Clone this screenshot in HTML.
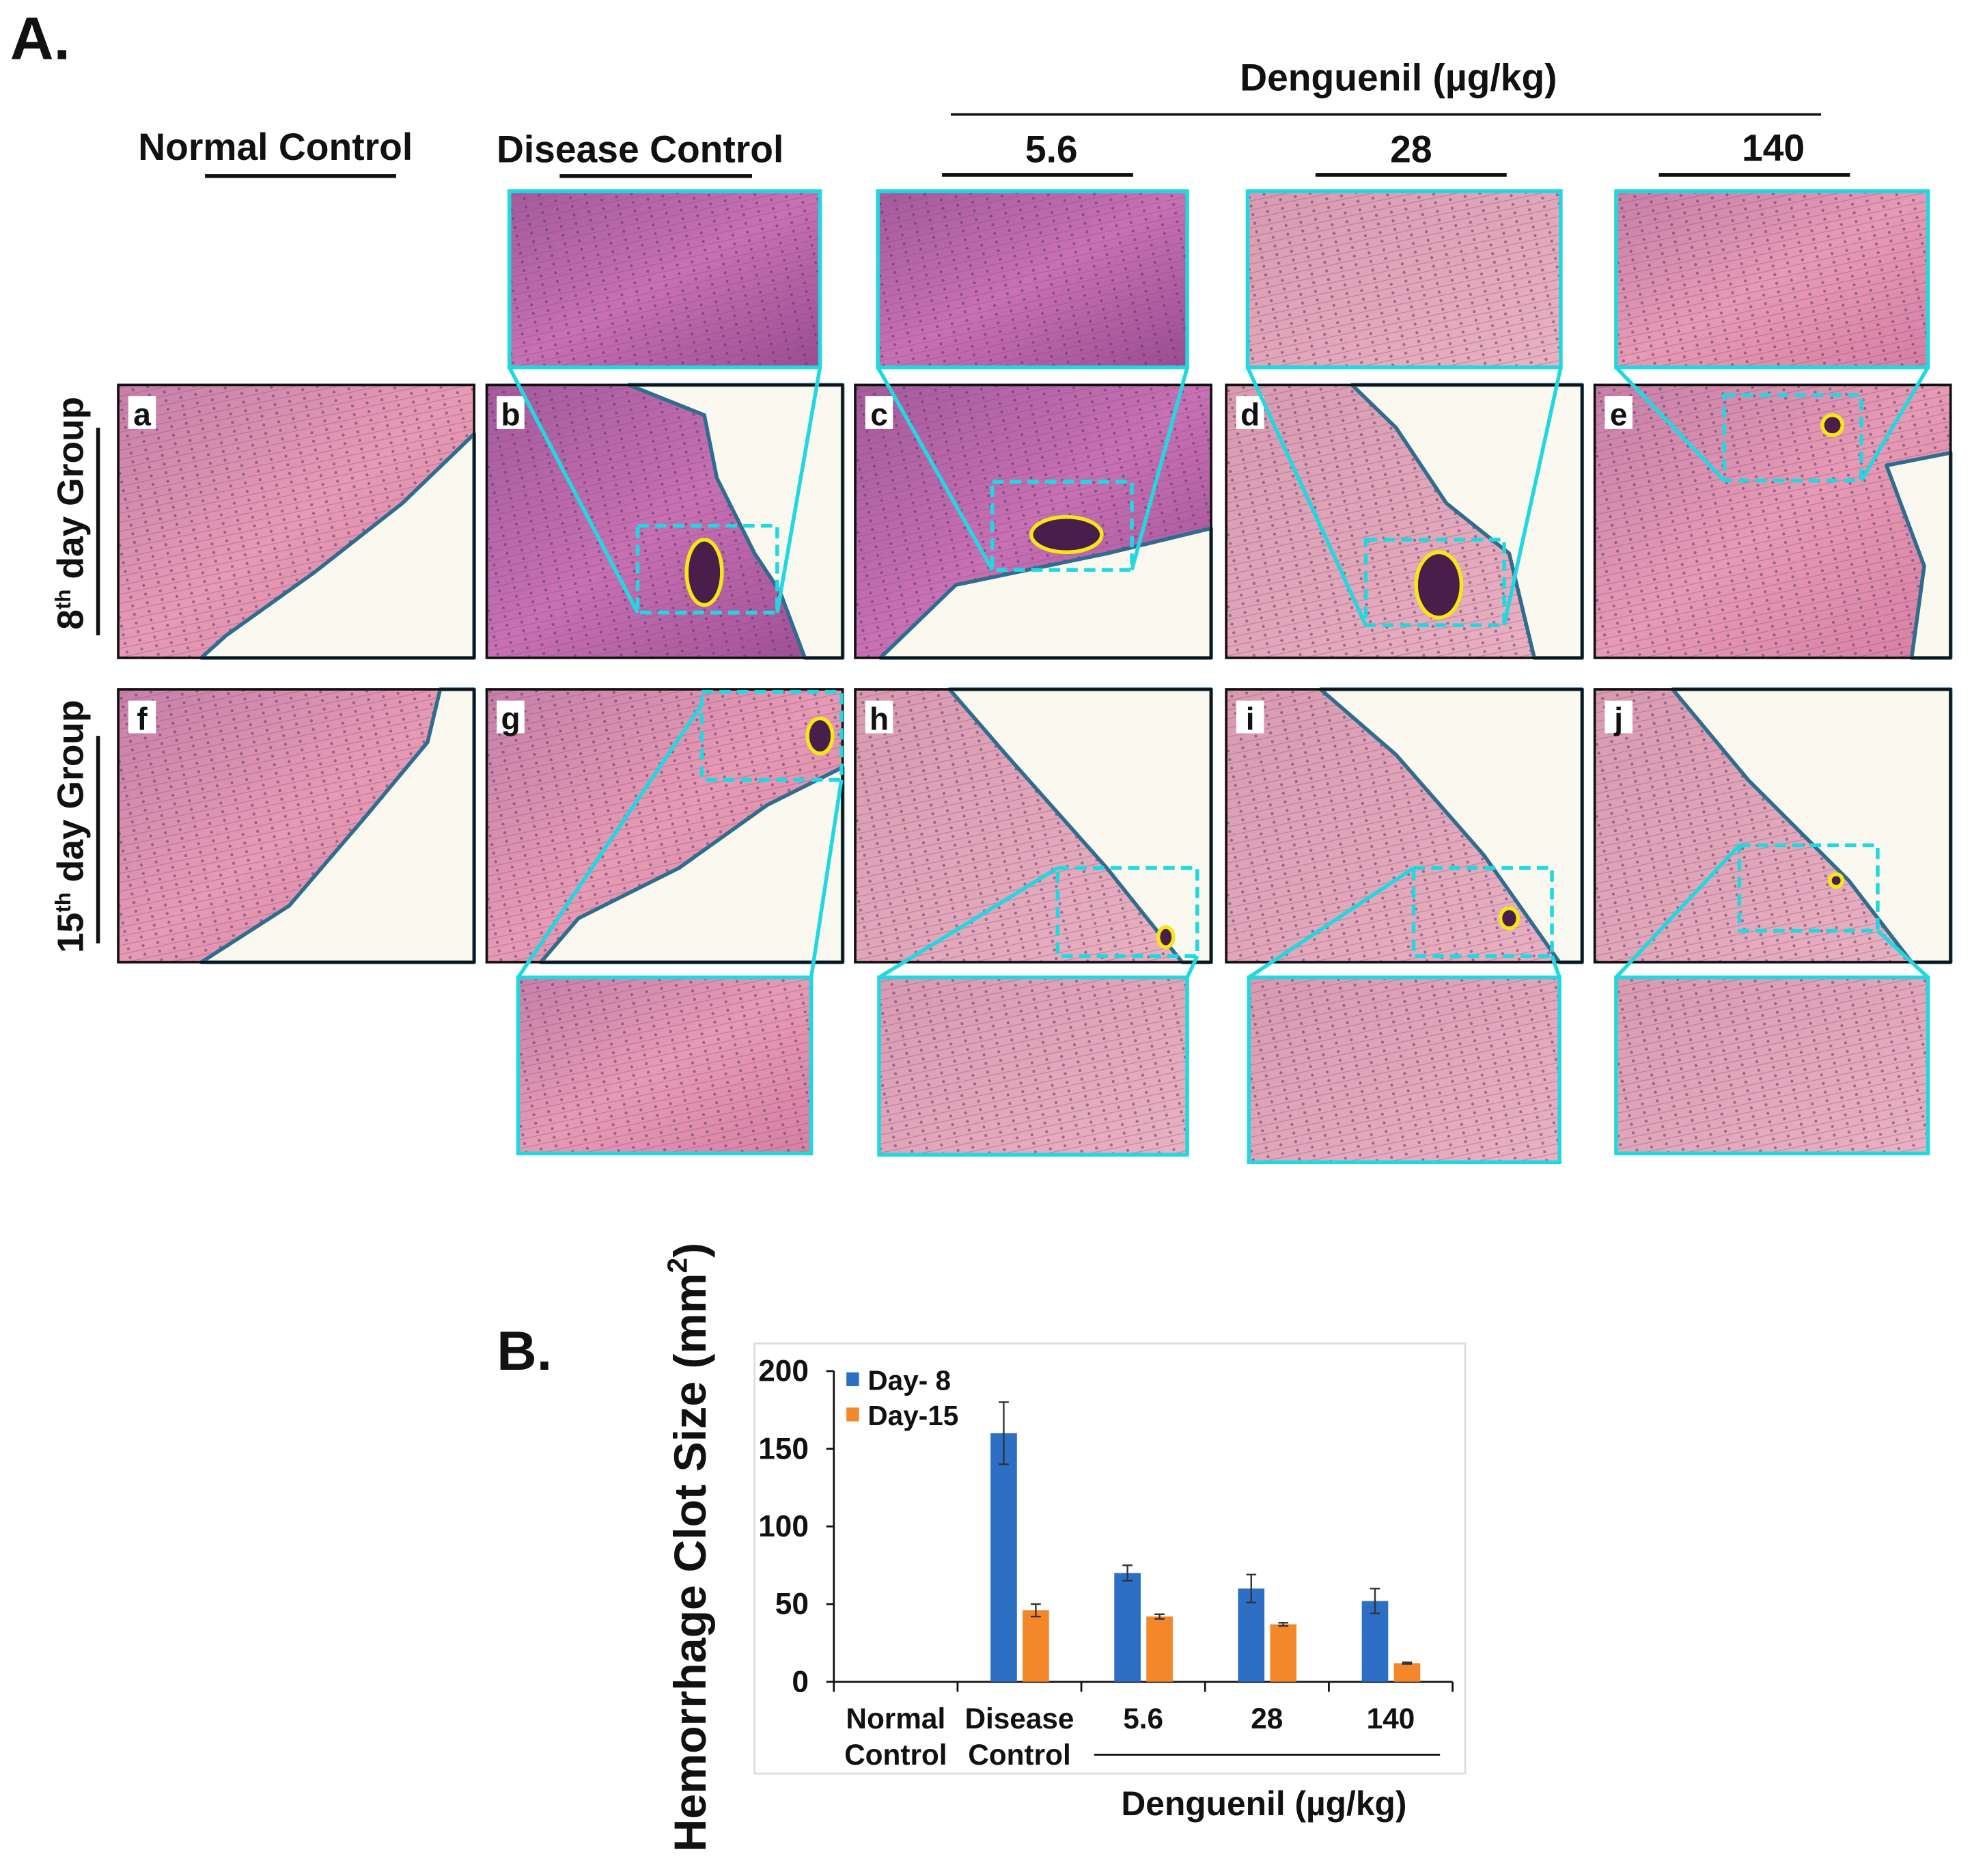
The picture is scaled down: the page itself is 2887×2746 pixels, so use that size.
<!DOCTYPE html>
<html><head><meta charset="utf-8"><style>
html,body{margin:0;padding:0;background:#fff}
svg{display:block}
text{font-family:"Liberation Sans",sans-serif;font-weight:bold;fill:#111}
</style></head><body>
<svg id="fig" width="2887" height="2746" viewBox="0 0 1568 1491.4" xmlns="http://www.w3.org/2000/svg">
<defs>
<linearGradient id="pk" x1="0" y1="0" x2="1" y2="1"><stop offset="0" stop-color="#c77fa8"/><stop offset="0.5" stop-color="#e79ab4"/><stop offset="1" stop-color="#d67fa2"/></linearGradient>
<linearGradient id="pu" x1="0" y1="0" x2="1" y2="1"><stop offset="0" stop-color="#a45a9c"/><stop offset="0.5" stop-color="#c870b4"/><stop offset="1" stop-color="#9c4c92"/></linearGradient>
<linearGradient id="lp" x1="0" y1="0" x2="1" y2="1"><stop offset="0" stop-color="#d99ab0"/><stop offset="1" stop-color="#eab1c2"/></linearGradient>
<pattern id="st" width="12" height="7" patternUnits="userSpaceOnUse" patternTransform="rotate(-12)"><rect width="12" height="7" fill="none"/><circle cx="3" cy="3" r="1.2" fill="#5a3a6a" opacity="0.55"/><line x1="0" y1="6" x2="12" y2="6" stroke="#7a4a7a" stroke-width="0.6" opacity="0.4"/></pattern>
</defs>

<text x="8" y="47" font-size="48">A.</text>

<g>
<text x="219" y="127" font-size="30" text-anchor="middle">Normal Control</text>
<line x1="163" y1="140" x2="315" y2="140" stroke="#111" stroke-width="3"/>
<text x="509" y="129" font-size="30" text-anchor="middle">Disease Control</text>
<line x1="445" y1="140" x2="598" y2="140" stroke="#111" stroke-width="3"/>
<text x="1112" y="72" font-size="30" text-anchor="middle">Denguenil (µg/kg)</text>
<line x1="756" y1="91" x2="1448" y2="91" stroke="#111" stroke-width="2"/>
<text x="836" y="129" font-size="30" text-anchor="middle">5.6</text>
<line x1="749" y1="139" x2="901" y2="139" stroke="#111" stroke-width="3"/>
<text x="1122" y="129" font-size="30" text-anchor="middle">28</text>
<line x1="1046" y1="139" x2="1198" y2="139" stroke="#111" stroke-width="3"/>
<text x="1410" y="128" font-size="30" text-anchor="middle">140</text>
<line x1="1319" y1="139" x2="1471" y2="139" stroke="#111" stroke-width="3"/>
</g>

<g>
<text transform="translate(66,408) rotate(-90)" font-size="29" text-anchor="middle">8<tspan font-size="17" dy="-10">th</tspan><tspan dy="10"> day Group</tspan></text>
<line x1="78" y1="340" x2="78" y2="505" stroke="#111" stroke-width="3"/>
<text transform="translate(66,657) rotate(-90)" font-size="29" text-anchor="middle">15<tspan font-size="17" dy="-10">th</tspan><tspan dy="10"> day Group</tspan></text>
<line x1="78" y1="585" x2="78" y2="750" stroke="#111" stroke-width="3"/>
</g>

<g id="panels"></g>

<text x="395" y="1089" font-size="44">B.</text>

<g id="chart">
<rect x="600" y="1068" width="565" height="342" fill="#fff" stroke="#ddd" stroke-width="1.5"/>
</g>
</svg>
<script>
// ---- chart data ----
const categories = ["Normal Control","Disease Control","5.6","28","140"];
const day8Values = [0,160,70,60,52];
const day8Errors = [0,20,5,9,8];
const day15Values = [0,46,42,37,12];
const day15Errors = [0,4,1.5,1,0.5];
const yTicks = [0,50,100,150,200];
const seriesNames = ["Day- 8","Day-15"];

const NS="http://www.w3.org/2000/svg";
function mk(tag,attrs,parent){const e=document.createElementNS(NS,tag);for(const k in attrs)e.setAttribute(k,attrs[k]);parent.appendChild(e);return e;}

// ---- panels (micrographs approximated) ----
const P=document.getElementById('panels');
const panels=[
 {id:'a',x:94,y:306,f:'url(#pk)',w:[[377,345],[320,400],[250,455],[180,505],[160,523],[377,523]]},
 {id:'b',x:387,y:306,f:'url(#pu)',w:[[500,306],[670,306],[670,523],[640,523],[620,470],[600,440],[570,380],[560,330]]},
 {id:'c',x:680,y:306,f:'url(#pu)',w:[[700,523],[760,465],[880,440],[963,420],[963,523]]},
 {id:'d',x:975,y:306,f:'url(#lp)',w:[[1075,306],[1258,306],[1258,523],[1220,523],[1200,440],[1150,400],[1110,340]]},
 {id:'e',x:1268,y:306,f:'url(#pk)',w:[[1500,370],[1551,360],[1551,523],[1520,523],[1530,450]]},
 {id:'f',x:94,y:548,f:'url(#pk)',w:[[350,548],[377,548],[377,765],[160,765],[230,720],[290,650],[340,590]]},
 {id:'g',x:387,y:548,f:'url(#pk)',w:[[670,610],[610,640],[540,690],[460,730],[430,765],[670,765]]},
 {id:'h',x:680,y:548,f:'url(#lp)',w:[[755,548],[963,548],[963,765],[940,765],[880,690],[800,600]]},
 {id:'i',x:975,y:548,f:'url(#lp)',w:[[1050,548],[1258,548],[1258,765],[1240,765],[1180,680],[1110,600]]},
 {id:'j',x:1268,y:548,f:'url(#lp)',w:[[1330,548],[1551,548],[1551,765],[1520,765],[1470,700],[1390,620]]}
];
panels.forEach(p=>{
 const g=mk('g',{},P);
 
 
 mk('rect',{x:p.x,y:p.y,width:283,height:217,fill:p.f},g);
 mk('rect',{x:p.x,y:p.y,width:283,height:217,fill:'url(#st)'},g);
 mk('polygon',{points:p.w.map(q=>q.join(',')).join(' '),fill:'#fbf8ef',stroke:'#2f6d8e','stroke-width':3,'stroke-linejoin':'round'},g);
 mk('rect',{x:p.x,y:p.y,width:283,height:217,fill:'none',stroke:'#111','stroke-width':2},g);
 mk('rect',{x:p.x+8,y:p.y+9,width:22,height:26,fill:'#fff'},g);
 const t=mk('text',{x:p.x+19,y:p.y+32,'font-size':25,'text-anchor':'middle'},g);t.textContent=p.id;
});
// insets and zoom boxes
const insets=[
 {x:405,y:152,w:247,h:140,f:'url(#pu)',b:[507,418,111,69],l:[[405,292,507,487],[652,292,618,487]]},
 {x:698,y:152,w:246,h:140,f:'url(#pu)',b:[789,383,111,70],l:[[698,292,789,453],[944,292,900,453]]},
 {x:992,y:152,w:249,h:140,f:'url(#lp)',b:[1086,429,110,68],l:[[992,292,1086,497],[1241,292,1196,497]]},
 {x:1285,y:152,w:248,h:140,f:'url(#pk)',b:[1371,314,109,68],l:[[1285,292,1371,382],[1533,292,1480,382]]},
 {x:412,y:777,w:233,h:140,f:'url(#pk)',b:[558,550,111,70],l:[[412,777,558,560],[645,777,669,620]]},
 {x:699,y:777,w:245,h:141,f:'url(#lp)',b:[841,690,111,70],l:[[699,777,841,690],[944,777,952,760]]},
 {x:993,y:777,w:247,h:147,f:'url(#lp)',b:[1124,690,110,70],l:[[993,777,1124,690],[1240,777,1234,760]]},
 {x:1285,y:777,w:248,h:140,f:'url(#lp)',b:[1383,672,110,68],l:[[1285,777,1383,672],[1533,777,1493,740]]}
];
const clots=[[560,455,14,26],[848,425,28,14],[1144,465,18,26],[1457,338,8,8],[652,585,10,14],[927,745,6,8],[1200,730,7,8],[1460,700,5,5]];
insets.forEach((s,i)=>{
 const g=mk('g',{},P);
 
 
 mk('rect',{x:s.x,y:s.y,width:s.w,height:s.h,fill:s.f},g);
 mk('rect',{x:s.x,y:s.y,width:s.w,height:s.h,fill:'url(#st)'},g);
 mk('rect',{x:s.x,y:s.y,width:s.w,height:s.h,fill:'none',stroke:'#22d8e0','stroke-width':3},g);
 mk('rect',{x:s.b[0],y:s.b[1],width:s.b[2],height:s.b[3],fill:'none',stroke:'#22d8e0','stroke-width':3,'stroke-dasharray':'9,5'},g);
 s.l.forEach(l=>mk('line',{x1:l[0],y1:l[1],x2:l[2],y2:l[3],stroke:'#22d8e0','stroke-width':3},g));
 const c=clots[i];
 mk('ellipse',{cx:c[0],cy:c[1],rx:c[2],ry:c[3],fill:'#4a1e4a',stroke:'#f5e618','stroke-width':3},g);
});

// ---- bar chart ----
const C=document.getElementById('chart');
const x0=663,x1=1155,yBase=1337,yTop=1090;
const yScale=v=>yBase-(v/200)*(yBase-yTop);
const bandW=(x1-x0)/categories.length;
const xCenter=i=>x0+bandW*(i+0.5);
const barW=21;
const ya=mk('line',{x1:x0,y1:yTop,x2:x0,y2:yBase,stroke:'#111','stroke-width':1.5},C);


const xa=mk('line',{x1:x0,y1:yBase,x2:x1,y2:yBase,stroke:'#111','stroke-width':1.5},C);


yTicks.forEach(v=>{
 mk('line',{x1:x0-6,y1:yScale(v),x2:x0,y2:yScale(v),stroke:'#111','stroke-width':1.5},C);
 const t=mk('text',{x:x0-20,y:yScale(v)+8,'font-size':24,'text-anchor':'end'},C);
 
 
 t.textContent=v;
});
for(let i=0;i<=categories.length;i++){mk('line',{x1:x0+bandW*i,y1:yBase,x2:x0+bandW*i,y2:yBase+8,stroke:'#111','stroke-width':1.5},C);}
function drawSeries(vals,errs,off,color,name){
 vals.forEach((v,i)=>{
  if(v<=0)return;
  const cx=xCenter(i)+off;
  const r=mk('rect',{x:cx-barW/2,y:yScale(v),width:barW,height:yBase-yScale(v),fill:color},C);
  
  
  const e=errs[i];
  mk('line',{x1:cx,y1:yScale(v+e),x2:cx,y2:yScale(v-e),stroke:'#333','stroke-width':1.3},C);
  mk('line',{x1:cx-4,y1:yScale(v+e),x2:cx+4,y2:yScale(v+e),stroke:'#333','stroke-width':1.3},C);
  mk('line',{x1:cx-4,y1:yScale(v-e),x2:cx+4,y2:yScale(v-e),stroke:'#333','stroke-width':1.3},C);
 });
}
drawSeries(day8Values,day8Errors,-12.5,'#2e6fc6','day8');
drawSeries(day15Values,day15Errors,13,'#f5872b','day15');
[['#2e6fc6',1104],['#f5872b',1132]].forEach((l,i)=>{
 const g=mk('g',{},C);
 
 
 mk('rect',{x:673,y:l[1]-13,width:10,height:11,fill:l[0]},g);
 const t=mk('text',{x:690,y:l[1]+1,'font-size':22},g);t.textContent=seriesNames[i];
});
categories.forEach((c,i)=>{
 const parts=c.split(' ');
 parts.forEach((p,j)=>{
  const t=mk('text',{x:xCenter(i),y:1374+j*29,'font-size':23,'text-anchor':'middle'},C);
  
  
  t.textContent=p;
 });
});
mk('line',{x1:870,y1:1395,x2:1145,y2:1395,stroke:'#111','stroke-width':1.5},C);
const xt=mk('text',{x:1005,y:1443,'font-size':27,'text-anchor':'middle'},C);


xt.textContent='Denguenil (µg/kg)';
const yt=mk('text',{transform:'translate(561,1230) rotate(-90)','font-size':36,'text-anchor':'middle'},C);


yt.innerHTML='Hemorrhage Clot Size (mm<tspan font-size="22" dy="-15">2</tspan><tspan dy="15">)</tspan>';
</script>
</body></html>
